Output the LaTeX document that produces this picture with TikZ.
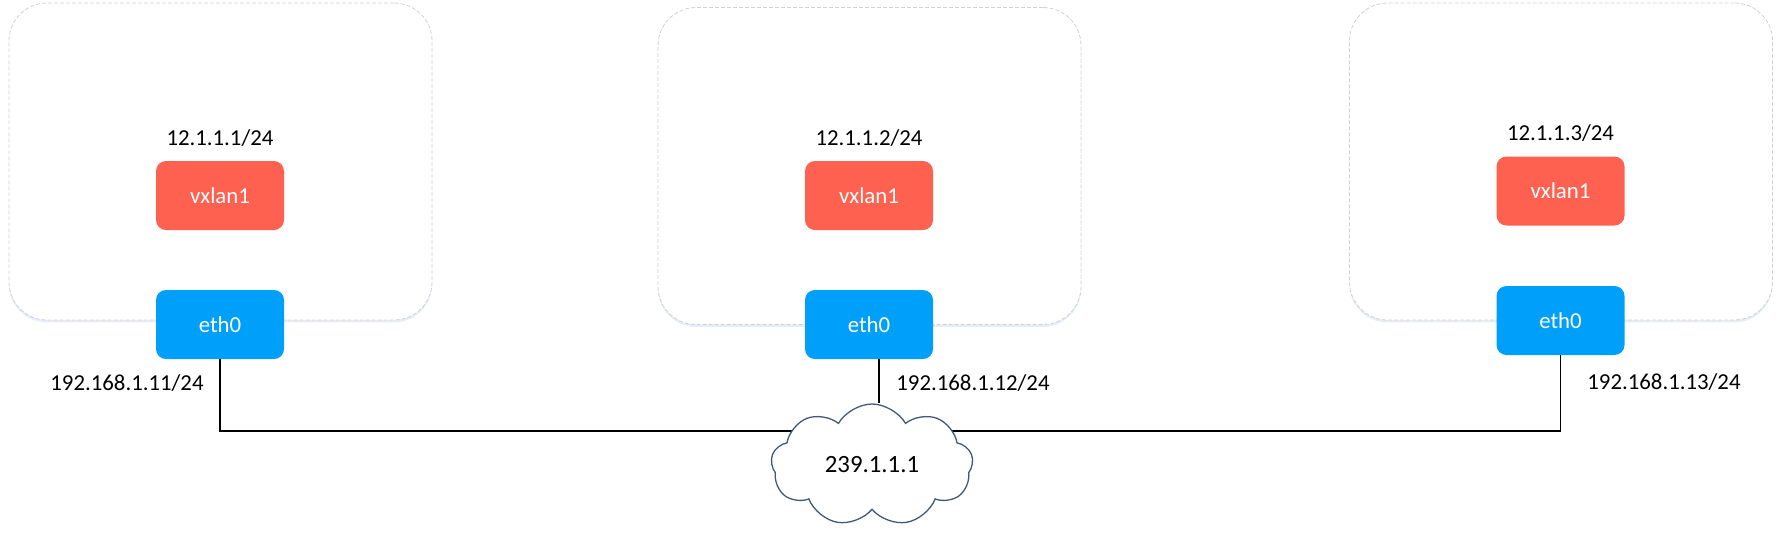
\documentclass[tikz,border=0pt]{standalone}
\usepackage{fontspec}
\setmainfont{Carlito}
\usepackage{tikz}
\usetikzlibrary{positioning,shapes.symbols,shadows}
\definecolor{hostline}{HTML}{CDD2D9}
\definecolor{hostshade}{HTML}{DDE5EF}
\definecolor{vxred}{HTML}{FF6150}
\definecolor{ethblue}{HTML}{009FFA}
\definecolor{cloudline}{HTML}{43587A}
\tikzset{
  host/.style={draw=hostline, dash pattern=on 2pt off 1pt, line width=0.4pt,
    rounded corners=19pt, fill=white, minimum width=211.5pt, minimum height=158.5pt,
    drop shadow={shadow xshift=0pt, shadow yshift=-1.2pt, fill=hostshade, opacity=0.7}},
  dev/.style={rounded corners=5pt, minimum width=64pt, minimum height=34.5pt,
    text=white, font=\fontsize{11.4}{13}\selectfont},
  vx/.style={dev, fill=vxred},
  eth/.style={dev, fill=ethblue},
  lab/.style={inner sep=0pt, font=\fontsize{11.4}{13}\selectfont},
  wire/.style={draw=black, line width=0.65pt},
  net/.style={cloud, cloud puffs=9, cloud puff arc=120, aspect=1.8, draw=cloudline, fill=white,
    line width=0.65pt, minimum width=101pt, minimum height=61pt, inner sep=0pt,
    font=\fontsize{12.4}{14}\selectfont},
}

\begin{document}
\begin{tikzpicture}[x=0.5pt, y=-0.5pt]
  \useasboundingbox (0,0) rectangle (1782,537);
  % hosts
  \node[host] (h1) at (220.5,161.5) {};
  \node[host] (h2) at (869.5,166) {};
  \node[host] (h3) at (1561,161.5) {};
  % vxlan devices and their addresses
  \node[vx] (v1) at (220,195.5) {vxlan1};
  \node[vx] (v2) at (869,195.5) {vxlan1};
  \node[vx] (v3) at (1560.5,191) {vxlan1};
  \node[lab, above=7pt of v1] (ip1) {12.1.1.1/24};
  \node[lab, above=7pt of v2] (ip2) {12.1.1.2/24};
  \node[lab, above=7pt of v3] (ip3) {12.1.1.3/24};
  % physical nics
  \node[eth] (e1) at (220,324.5) {eth0};
  \node[eth] (e2) at (869,324.5) {eth0};
  \node[eth] (e3) at (1560.5,320.5) {eth0};
  \node[lab, anchor=east] (a1) at (204,383) {192.168.1.11/24};
  \node[lab, anchor=west] (a2) at (896,383) {192.168.1.12/24};
  \node[lab, anchor=west] (a3) at (1587,382) {192.168.1.13/24};
  % multicast group
  \coordinate (bus) at (872,431);
  \draw[wire] (e1.south) |- (bus) -| (e3.south);
  \node[net] (mc) at (872,465) {239.1.1.1};
  \draw[wire] ([xshift=5pt]e2.south) -- ([xshift=5pt]e2.south |- mc.north);
\end{tikzpicture}
\end{document}
